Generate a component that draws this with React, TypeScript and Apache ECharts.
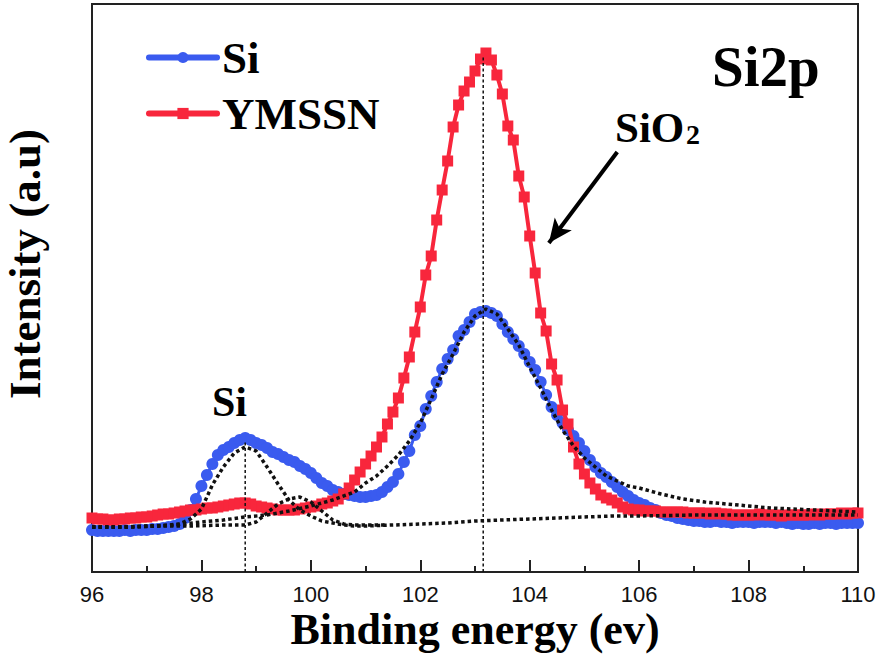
import React, { useEffect, useRef } from "react";
import * as echarts from "echarts";

// Binding energy sampling (eV)
const ENERGY_START = 96;
const ENERGY_STEP = 0.1;

// Si sample (blue circles), intensity in a.u.
const siIntensity = [
  42, 41, 41, 41, 41, 41, 42, 41, 42, 42,
  42, 43, 43, 44, 45, 46, 48, 54, 62, 73,
  86, 97, 108, 117, 122, 125, 129, 132, 134, 132,
  129, 127, 124, 120, 118, 115, 112, 110, 106, 103,
  99, 94, 89, 86, 82, 80, 78, 77, 76, 75,
  75, 76, 77, 80, 85, 90, 98, 110, 121, 137,
  146, 163, 176, 190, 203, 213, 222, 236, 242, 250,
  258, 260, 261, 259, 256, 248, 240, 233, 226, 218,
  210, 202, 190, 177, 165, 157, 149, 142, 136, 129,
  121, 112, 105, 99, 95, 90, 85, 80, 76, 72,
  69, 67, 64, 62, 59, 57, 56, 54, 53, 52,
  51, 51, 50, 50, 51, 50, 50, 49, 50, 50,
  50, 49, 50, 50, 50, 49, 50, 49, 48, 49,
  48, 48, 49, 48, 49, 49, 48, 49, 49, 49,
  49,
];

// YMSSN sample (red squares), intensity in a.u.
const ymssnIntensity = [
  54, 53, 53, 52, 52, 53, 53, 54, 54, 55,
  55, 56, 57, 58, 58, 59, 60, 61, 62, 62,
  63, 64, 64, 65, 66, 67, 68, 69, 69, 68,
  66, 65, 64, 63, 62, 62, 62, 62, 63, 64,
  65, 66, 68, 69, 71, 73, 78, 84, 92, 100,
  108, 116, 125, 135, 148, 160, 174, 194, 215, 240,
  265, 297, 316, 352, 382, 411, 445, 467, 481, 490,
  501, 513, 519, 512, 497, 478, 446, 432, 396, 375,
  336, 299, 259, 241, 208, 192, 162, 148, 125, 108,
  98, 89, 83, 77, 74, 72, 69, 65, 63, 62,
  62, 61, 61, 61, 60, 60, 60, 60, 60, 59,
  59, 59, 59, 58, 59, 58, 58, 57, 57, 57,
  57, 57, 58, 57, 57, 57, 56, 57, 57, 57,
  57, 57, 58, 57, 58, 58, 58, 59, 58, 59,
  59,
];

// Fitted components (black dotted curves): [energy, intensity]
const fitSiPeak = [
  [96.0, 45], [96.4, 45], [96.8, 45], [97.2, 46], [97.6, 48], [97.8, 53],
  [98.0, 63], [98.2, 87], [98.4, 105], [98.6, 119], [98.8, 125], [99.0, 121],
  [99.2, 105], [99.4, 88], [99.6, 72], [99.8, 62], [100.0, 56], [100.2, 51],
  [100.4, 49], [100.6, 47], [100.8, 46], [101.0, 46], [101.5, 47], [102.0, 48],
  [102.5, 49], [103.0, 51], [103.5, 52], [104.0, 53], [104.5, 54], [105.0, 55],
  [105.5, 56], [106.0, 56], [107.0, 57], [108.0, 57], [109.0, 57], [110.0, 57],
];

const fitSiShoulder = [
  [96.0, 45], [96.6, 45], [97.2, 46], [97.8, 46], [98.4, 47], [98.8, 47],
  [99.0, 50], [99.2, 59], [99.4, 68], [99.6, 73], [99.8, 75], [100.0, 70],
  [100.2, 61], [100.4, 52], [100.6, 48], [100.8, 47], [101.0, 47], [101.4, 47],
];

const fitSiO2 = [
  [96.0, 45], [96.5, 45], [97.0, 46], [97.5, 47], [98.0, 50], [98.4, 52],
  [98.8, 55], [99.2, 57], [99.6, 61], [100.0, 66], [100.4, 72], [100.8, 80],
  [101.0, 89], [101.2, 96], [101.4, 106], [101.6, 117], [101.8, 131], [102.0, 149],
  [102.2, 173], [102.4, 198], [102.6, 218], [102.8, 240], [103.0, 256], [103.2, 263],
  [103.4, 258], [103.6, 243], [103.8, 227], [104.0, 205], [104.2, 184], [104.4, 162],
  [104.6, 142], [104.8, 126], [105.0, 114], [105.2, 105], [105.4, 96], [105.6, 91],
  [105.8, 86], [106.0, 84], [106.4, 78], [106.8, 73], [107.2, 70], [107.6, 68],
  [108.0, 66], [108.4, 64], [108.8, 63], [109.2, 62], [109.6, 61], [110.0, 60],
];

// Peak position guide lines
const guideSi = [[98.8, 0], [98.8, 132]];
const guideSiO2 = [[103.15, 0], [103.15, 516]];

// Arrow pointing at the SiO2 peak
const arrowFrom = [105.6, 420];
const arrowTo = [104.35, 329];

const xMin = 96;
const xMax = 110;
const yMax = 568;

const BLUE = "#3a5bef";
const RED = "#f8263c";
const SERIF = "'Liberation Serif', 'Times New Roman', serif";
const SANS = "'Liberation Sans', Arial, sans-serif";

function withEnergy(values: number[]) {
  return values.map((v, i) => [+(ENERGY_START + i * ENERGY_STEP).toFixed(2), v]);
}

export default function App() {
  const ref = useRef<HTMLDivElement>(null);

  useEffect(() => {
    document.body.style.margin = "0";
    if (!ref.current) return;
    const chart = echarts.init(ref.current, null, { renderer: "svg" });

    const dotted = {
      type: "line",
      symbol: "none",
      silent: true,
      z: 5,
      lineStyle: { color: "#111", width: 3.5, type: [3.5, 3] },
    };
    const guide = {
      type: "line",
      symbol: "none",
      silent: true,
      z: 6,
      lineStyle: { color: "#111", width: 1.5, type: [3, 2.5] },
    };

    chart.setOption({
      animation: false,
      backgroundColor: "#ffffff",
      grid: {
        left: 92,
        right: 22,
        top: 4,
        bottom: 86,
        show: true,
        borderColor: "#222",
        borderWidth: 2,
      },
      legend: {
        orient: "vertical",
        left: 146,
        top: 35,
        padding: 0,
        itemGap: 11,
        itemWidth: 68,
        itemHeight: 14,
        selectedMode: false,
        textStyle: {
          fontFamily: SERIF,
          fontWeight: "bold",
          fontSize: 45,
          lineHeight: 44,
          color: "#000",
        },
        data: [
          { name: "Si", lineStyle: { width: 6, cap: "round", color: BLUE }, itemStyle: { color: BLUE } },
          { name: "YMSSN", lineStyle: { width: 6, cap: "round", color: RED }, itemStyle: { color: RED } },
        ],
      },
      xAxis: {
        type: "value",
        min: xMin,
        max: xMax,
        interval: 2,
        axisLine: { show: true, lineStyle: { color: "#222", width: 2 } },
        axisTick: { show: true, inside: true, length: 12, lineStyle: { color: "#222", width: 2 } },
        minorTick: { show: true, splitNumber: 2, length: 6, lineStyle: { color: "#222", width: 2 } },
        splitLine: { show: false },
        axisLabel: { fontFamily: SANS, fontSize: 22, color: "#111", margin: 11 },
      },
      yAxis: {
        type: "value",
        min: 0,
        max: yMax,
        axisLine: { show: true, lineStyle: { color: "#222", width: 2 } },
        axisTick: { show: false },
        axisLabel: { show: false },
        splitLine: { show: false },
      },
      series: [
        {
          name: "Si",
          type: "line",
          data: withEnergy(siIntensity),
          symbol: "circle",
          symbolSize: 12,
          z: 2,
          itemStyle: { color: BLUE },
          lineStyle: { color: BLUE, width: 3 },
        },
        {
          name: "YMSSN",
          type: "line",
          data: withEnergy(ymssnIntensity),
          symbol: "rect",
          symbolSize: 11,
          z: 3,
          itemStyle: { color: RED },
          lineStyle: { color: RED, width: 4 },
        },
        { ...dotted, name: "fitSiPeak", data: fitSiPeak },
        { ...dotted, name: "fitSiShoulder", data: fitSiShoulder },
        {
          ...dotted,
          name: "fitSiO2",
          data: fitSiO2,
          markLine: {
            silent: true,
            symbol: ["none", "arrow"],
            symbolSize: [16, 24],
            label: { show: false },
            lineStyle: { color: "#000", width: 4, type: "solid" },
            data: [[{ coord: arrowFrom }, { coord: arrowTo }]],
          },
        },
        { ...guide, name: "guideSi", data: guideSi },
        { ...guide, name: "guideSiO2", data: guideSiO2 },
      ],
      graphic: [
        {
          type: "text",
          x: 712,
          y: 66,
          style: { text: "Si2p", fontFamily: SERIF, fontWeight: "bold", fontSize: 57, lineHeight: 50, fill: "#000", align: "left", verticalAlign: "middle" },
        },
        {
          type: "text",
          x: 615,
          y: 127,
          style: { text: "SiO", fontFamily: SERIF, fontWeight: "bold", fontSize: 43, lineHeight: 38, fill: "#000", align: "left", verticalAlign: "middle" },
        },
        {
          type: "text",
          x: 686,
          y: 134,
          style: { text: "2", fontFamily: SERIF, fontWeight: "bold", fontSize: 28, lineHeight: 26, fill: "#000", align: "left", verticalAlign: "middle" },
        },
        {
          type: "text",
          x: 212,
          y: 402,
          style: { text: "Si", fontFamily: SERIF, fontWeight: "bold", fontSize: 42, lineHeight: 38, fill: "#000", align: "left", verticalAlign: "middle" },
        },
        {
          type: "text",
          x: 25,
          y: 264,
          rotation: Math.PI / 2,
          style: { text: "Intensity (a.u)", fontFamily: SERIF, fontWeight: "bold", fontSize: 45, lineHeight: 40, fill: "#000", align: "center", verticalAlign: "middle" },
        },
        {
          type: "text",
          x: 475,
          y: 629,
          style: { text: "Binding energy (ev)", fontFamily: SERIF, fontWeight: "bold", fontSize: 44, lineHeight: 36, fill: "#000", align: "center", verticalAlign: "middle" },
        },
      ],
    });

    return () => chart.dispose();
  }, []);

  return <div ref={ref} style={{ width: 880, height: 658 }} />;
}
